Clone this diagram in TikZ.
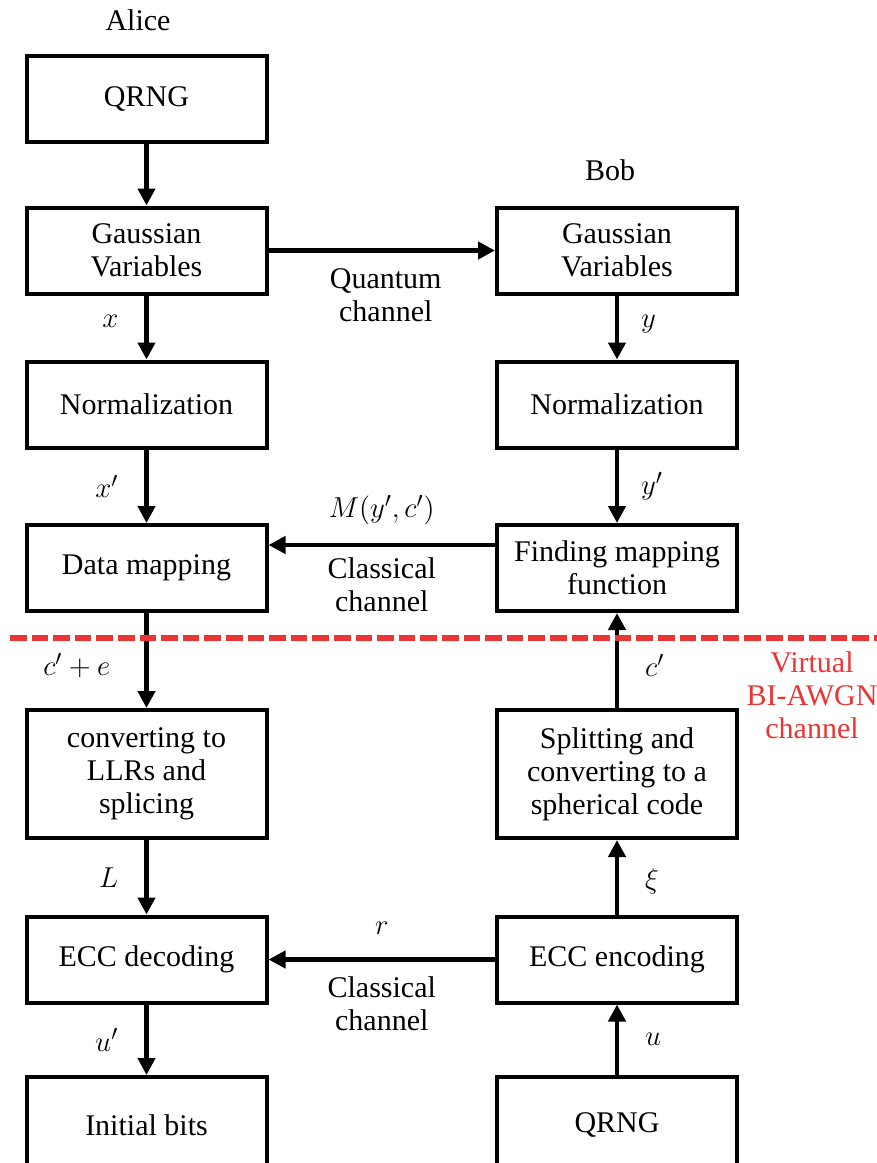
\documentclass[tikz,border=0pt]{standalone}
\usepackage{amsmath}
\usepackage{fontspec}
\setmainfont{Liberation Serif}
\usetikzlibrary{arrows.meta,positioning}

\begin{document}
\begin{tikzpicture}[
        x=0.5pt,y=-0.5pt,
        font=\fontsize{15pt}{16.5pt}\selectfont,
        flow/.style={line width=2.2pt,-{Triangle[length=8.5pt,width=8.5pt]}},
        lbl/.style={inner sep=0pt},
        chan/.style={align=center,inner sep=0pt}
    ]
        \definecolor{vrx}{RGB}{235,52,52}

        \useasboundingbox (0,0) rectangle (877,1163);
        \clip (0,0) rectangle (877,1163);

        \begin{scope}[
            every node/.style={draw,line width=2pt,minimum width=120pt,minimum height=43pt,align=center,inner sep=2pt}
        ]
            \node (a1) at (146.5,99)    {QRNG};
            \node (a2) at (146.5,250.5) {Gaussian\\Variables};
            \node (a3) at (146.5,404.5) {Normalization};
            \node (a4) at (146.5,568)   {Data mapping};
            \node (a5) at (146.5,774) [minimum height=64pt] {converting to\\LLRs and\\splicing};
            \node (a6) at (146.5,959.5) {ECC decoding};
            \node (a7) at (146.5,1125) [minimum height=48pt] {Initial bits};
        \end{scope}
        \node at (138,20) {Alice};

        \begin{scope}[
            every node/.style={draw,line width=2pt,minimum width=120pt,minimum height=43pt,align=center,inner sep=2pt}
        ]
            \node (b2) at (617,250.5) {Gaussian\\Variables};
            \node (b3) at (617,404.5) {Normalization};
            \node (b4) at (617,568)   {Finding mapping\\function};
            \node (b5) at (617,774) [minimum height=64pt] {Splitting and\\converting to a\\spherical code};
            \node (b6) at (617,959.5) {ECC encoding};
            \node (b7) at (617,1125) [minimum height=48pt] {QRNG};
        \end{scope}
        \node at (610,170) {Bob};

        % Alice side
        \draw [flow] (a1) -- (a2);
        \draw [flow] (a2) -- node[lbl,left=13pt,pos=0.4]  {$x$}      (a3);
        \draw [flow] (a3) -- node[lbl,left=13pt]          {$x'$}     (a4);
        \draw [flow] (a4) -- node[lbl,left=17pt,pos=0.55] {$c'+e$}   (a5);
        \draw [flow] (a5) -- node[lbl,left=13pt]          {$L$}      (a6);
        \draw [flow] (a6) -- node[lbl,left=13pt]          {$u'$}     (a7);

        % Bob side
        \draw [flow] (b2) -- node[lbl,right=11pt,pos=0.45] {$y$}     (b3);
        \draw [flow] (b3) -- node[lbl,right=11pt]          {$y'$}    (b4);
        \draw [flow] (b5) -- node[lbl,right=13pt,pos=0.45] {$c'$}    (b4);
        \draw [flow] (b6) -- node[lbl,right=13pt,pos=0.45] {$\xi$}   (b5);
        \draw [flow] (b7) -- node[lbl,right=13pt,pos=0.5]  {$u$}     (b6);

        % channels between the parties
        \draw [flow] (a2) -- node[chan,xshift=2pt,yshift=-22.5pt] {Quantum\\channel} (b2);
        \draw [flow] ([yshift=11.5pt]b4.west) --
            node[chan,yshift=17.5pt]  {$M(y',c')$}
            node[chan,yshift=-19.75pt] {Classical\\channel} ([yshift=11.5pt]a4.east);
        \draw [flow] (b6) --
            node[chan,yshift=15.75pt] {$r$}
            node[chan,yshift=-22.25pt] {Classical\\channel} (a6);

        % virtual channel border
        \coordinate (dl) at (10,638);
        \coordinate (dr) at (880,638);
        \draw [vrx,line width=2.8pt,dash pattern=on 8.3pt off 2.5pt] (dl) -- (dr);
        \node [chan,text=vrx] at (812,695) {Virtual\\BI-AWGN\\channel};
\end{tikzpicture}
\end{document}
